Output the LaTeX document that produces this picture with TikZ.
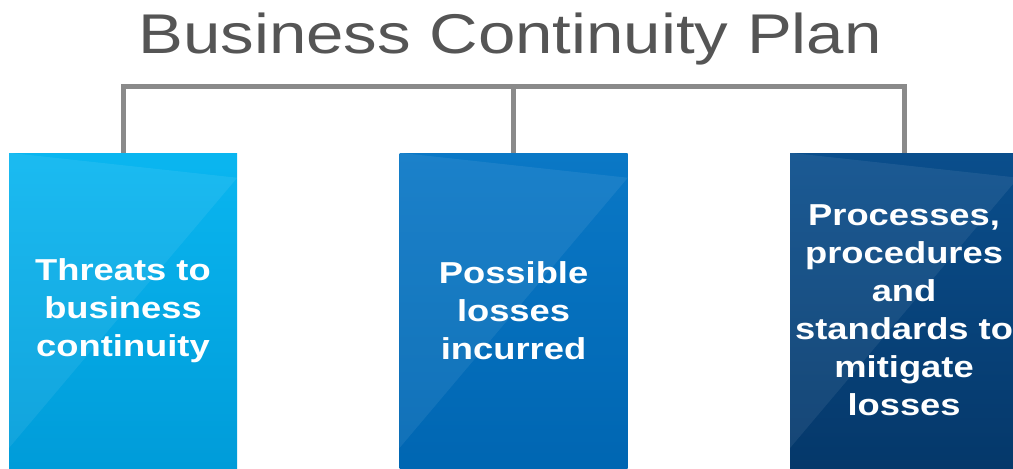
\documentclass[tikz,border=0pt]{standalone}
\usepackage{fontspec}
\usepackage{tikz}
\usetikzlibrary{calc,positioning}
\newfontfamily\bcpfont[FakeStretch=1.2]{Liberation Sans}
\definecolor{bcpgray}{HTML}{555555}
\definecolor{bcpline}{HTML}{8A8A8A}
\definecolor{threattop}{HTML}{0AB6F0}
\definecolor{threatbot}{HTML}{009CD9}
\definecolor{losstop}{HTML}{0A78C6}
\definecolor{lossbot}{HTML}{0066B2}
\definecolor{mitigtop}{HTML}{0A4E8C}
\definecolor{mitigbot}{HTML}{05386A}

\tikzset{
  pillar/.style={minimum width=171pt, minimum height=236.25pt, inner sep=0pt,
    text=white, align=center, font=\bcpfont\bfseries\fontsize{22.7}{28.5}\selectfont},
  link/.style={draw=bcpline, line width=3.75pt},
  sheen/.style={fill=white, fill opacity=0.07}
}

\begin{document}
\begin{tikzpicture}[x=0.75pt, y=-0.75pt, node distance=121.5pt]
  \useasboundingbox (0,0) rectangle (1013,468);

  \node[anchor=base, text=bcpgray, font=\bcpfont\fontsize{42}{50}\selectfont]
    (title) at (510,53) {Business Continuity Plan};

  % the three pillars
  \node[pillar, top color=threattop, bottom color=threatbot]
    (threats) at (123,310.5) {Threats to\\business\\continuity};
  \node[pillar, top color=losstop, bottom color=lossbot, right=of threats]
    (losses) {Possible\\losses\\incurred};
  \node[pillar, top color=mitigtop, bottom color=mitigbot, right=of losses]
    (mitigate) {Processes,\\procedures\\and\\standards to\\mitigate\\losses};

  \foreach \b in {threats,losses,mitigate}
    \fill[sheen] (\b.north west) -- ($(\b.north east)+(0,25)$)
      -- ($(\b.south west)+(0,-20)$) -- cycle;

  % bracket from the title down to each pillar
  \coordinate (bar) at (0,86);
  \draw[link] (threats.north) |- (mitigate.north |- bar) -- (mitigate.north);
  \draw[link] (losses.north) -- (losses.north |- bar);
\end{tikzpicture}
\end{document}
